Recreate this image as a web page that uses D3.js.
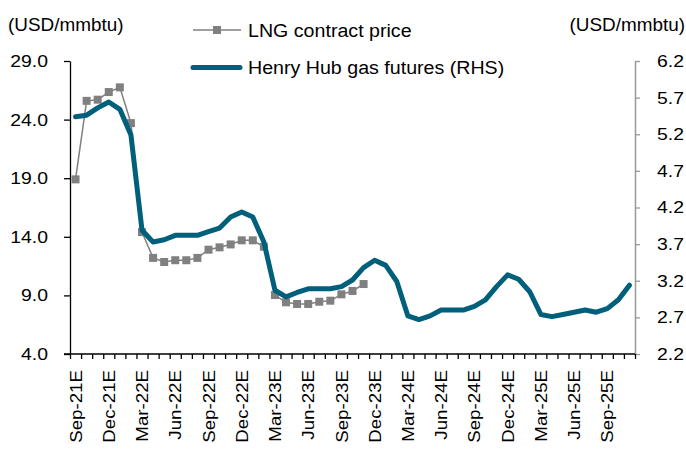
<!DOCTYPE html>
<html><head><meta charset="utf-8">
<script src="https://cdn.jsdelivr.net/npm/d3@7"></script>
<style>
body{margin:0;background:#fff;}
svg{display:block;font-family:"Liberation Sans",Arial,sans-serif;}
</style></head>
<body><svg id="c" width="686" height="450"></svg>
<script>
const categories = ["Sep-21E","Oct-21E","Nov-21E","Dec-21E",
"Jan-22E","Feb-22E","Mar-22E","Apr-22E","May-22E","Jun-22E","Jul-22E","Aug-22E","Sep-22E","Oct-22E","Nov-22E","Dec-22E",
"Jan-23E","Feb-23E","Mar-23E","Apr-23E","May-23E","Jun-23E","Jul-23E","Aug-23E","Sep-23E","Oct-23E","Nov-23E","Dec-23E",
"Jan-24E","Feb-24E","Mar-24E","Apr-24E","May-24E","Jun-24E","Jul-24E","Aug-24E","Sep-24E","Oct-24E","Nov-24E","Dec-24E",
"Jan-25E","Feb-25E","Mar-25E","Apr-25E","May-25E","Jun-25E","Jul-25E","Aug-25E","Sep-25E","Oct-25E","Nov-25E"];
const labelCategories = ["Sep-21E","Dec-21E","Mar-22E","Jun-22E","Sep-22E","Dec-22E","Mar-23E","Jun-23E","Sep-23E","Dec-23E","Mar-24E","Jun-24E","Sep-24E","Dec-24E","Mar-25E","Jun-25E","Sep-25E"];
const lngContract = [18.9,25.6,25.7,26.35,26.75,23.7,14.4,12.2,11.85,12.0,12.0,12.2,12.9,13.1,13.35,13.7,13.7,13.15,9.03,8.41,8.27,8.27,8.46,8.55,9.09,9.38,9.97];
const henryHub = [5.44,5.46,5.56,5.64,5.54,5.19,3.89,3.73,3.76,3.82,3.82,3.82,3.87,3.92,4.07,4.14,4.07,3.73,3.07,2.98,3.04,3.09,3.09,3.09,3.12,3.21,3.38,3.48,3.41,3.19,2.72,2.67,2.72,2.80,2.80,2.80,2.85,2.94,3.12,3.28,3.22,3.05,2.74,2.71,2.74,2.77,2.80,2.77,2.82,2.94,3.14];
const leftTicks = [4,9,14,19,24,29];
const rightTicks = [2.2,2.7,3.2,3.7,4.2,4.7,5.2,5.7,6.2];
const unitLabel = "(USD/mmbtu)";
const seriesNames = ["LNG contract price","Henry Hub gas futures (RHS)"];

const svg = d3.select("#c");
const L = 70, R = 635, T = 61, B = 354;
const teal = "#005f7b", gray = "#808080";
const FF = "Liberation Sans, Arial, sans-serif";

function stretch(sel, k){
  sel.each(function(){
    const w = this.getComputedTextLength();
    this.setAttribute("textLength", (w*k).toFixed(2));
    this.setAttribute("lengthAdjust","spacingAndGlyphs");
  });
}

const x = d3.scaleBand().domain(categories).range([L, R]);
const xEdge = d3.scaleLinear().domain([0, categories.length]).range([L, R]);
const yL = d3.scaleLinear().domain([4, 29]).range([B, T]);
const yR = d3.scaleLinear().domain([2.2, 6.2]).range([B, T]);
const cx = c => x(c) + x.bandwidth()/2;

// left axis
const gL = svg.append("g").attr("transform", `translate(${L},0)`)
  .call(d3.axisLeft(yL).tickValues(leftTicks).tickFormat(d3.format(".1f")).tickSize(6).tickSizeOuter(0).tickPadding(16));
gL.select(".domain").attr("stroke","#000").attr("stroke-width",1.3);
gL.selectAll(".tick line").attr("stroke","#000").attr("stroke-width",1.3);
gL.selectAll("text").attr("font-size",17).attr("fill","#000").attr("font-family",FF);
stretch(gL.selectAll("text"), 1.14);

// right axis
const gR = svg.append("g").attr("transform", `translate(${R},0)`)
  .call(d3.axisRight(yR).tickValues(rightTicks).tickFormat(d3.format(".1f")).tickSize(5).tickSizeOuter(0).tickPadding(17));
gR.select(".domain").attr("stroke","#999").attr("stroke-width",1.5);
gR.selectAll(".tick line").attr("stroke","#999").attr("stroke-width",1.3);
gR.selectAll("text").attr("font-size",17).attr("fill","#000").attr("font-family",FF);
stretch(gR.selectAll("text"), 1.14);

// bottom axis ticks at boundaries
const gB = svg.append("g").attr("transform", `translate(0,${B})`)
  .call(d3.axisBottom(xEdge).tickValues(d3.range(categories.length+1)).tickFormat("").tickSize(5).tickSizeOuter(0));
gB.select(".domain").attr("stroke","#000").attr("stroke-width",1.5).attr("d",`M${L-6},0H${R}`);
gB.selectAll(".tick line").attr("stroke","#000").attr("stroke-width",1.3);

// bottom labels
const gBL = svg.append("g").attr("transform", `translate(0,${B})`)
  .call(d3.axisBottom(x).tickValues(labelCategories).tickSize(0).tickPadding(0));
gBL.select(".domain").remove();
gBL.selectAll("text")
  .attr("font-size",17).attr("fill","#000").attr("font-family",FF)
  .attr("text-anchor","end").attr("transform","rotate(-90)")
  .attr("x",-16).attr("y",0).attr("dy","0.36em");
stretch(gBL.selectAll("text"), 1.1);

// LNG series
const lngData = lngContract.map((v,i)=>({c:categories[i], v}));
svg.append("path").datum(lngData)
  .attr("fill","none").attr("stroke",gray).attr("stroke-width",1.5)
  .attr("d", d3.line().x(d=>cx(d.c)).y(d=>yL(d.v)));
svg.selectAll("rect.m").data(lngData).join("rect").attr("class","m")
  .attr("x",d=>cx(d.c)-4).attr("y",d=>yL(d.v)-4).attr("width",8).attr("height",8).attr("fill",gray);

// Henry Hub series
const hhData = henryHub.map((v,i)=>({c:categories[i], v}));
svg.append("path").datum(hhData)
  .attr("fill","none").attr("stroke",teal).attr("stroke-width",5)
  .attr("stroke-linejoin","round").attr("stroke-linecap","round")
  .attr("d", d3.line().x(d=>cx(d.c)).y(d=>yR(d.v)));

// unit labels
const u = svg.append("g");
u.append("text").attr("x",8).attr("y",31).attr("font-size",18).attr("font-family",FF).text(unitLabel);
u.append("text").attr("x",685).attr("y",31).attr("font-size",18).attr("font-family",FF).attr("text-anchor","end").text(unitLabel);
stretch(u.selectAll("text"), 1.05);

// legend
const lg = svg.append("g");
lg.append("line").attr("x1",193).attr("x2",241).attr("y1",30).attr("y2",30).attr("stroke",gray).attr("stroke-width",1.5);
lg.append("rect").attr("x",213).attr("y",26).attr("width",8).attr("height",8).attr("fill",gray);
lg.append("text").attr("x",248).attr("y",36.5).attr("font-size",18).attr("font-family",FF).text(seriesNames[0]);
lg.append("line").attr("x1",193).attr("x2",240).attr("y1",67.5).attr("y2",67.5).attr("stroke",teal).attr("stroke-width",5).attr("stroke-linecap","round");
lg.append("text").attr("x",248).attr("y",74).attr("font-size",18).attr("font-family",FF).text(seriesNames[1]);
stretch(lg.selectAll("text"), 1.09);
</script></body></html>
